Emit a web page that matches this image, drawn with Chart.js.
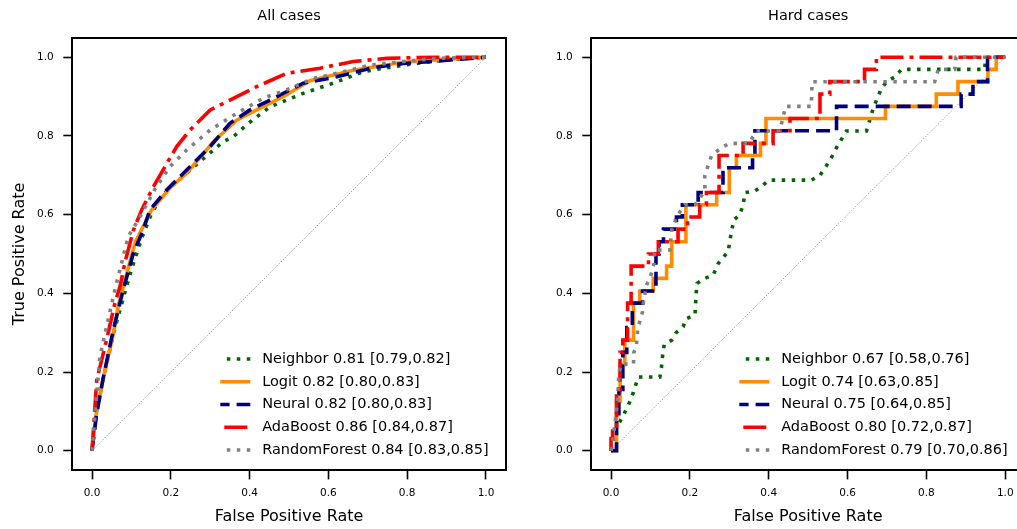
<!DOCTYPE html>
<html>
<head>
<meta charset="utf-8">
<script src="https://cdn.jsdelivr.net/npm/chart.js@4.4.1/dist/chart.umd.min.js"></script>
<style>
  html, body { margin: 0; padding: 0; background: #fff; overflow: hidden; width: 1017px; height: 529px; }
  canvas { position: absolute; top: 0; }
  #allCases { left: 0; }
  #hardCases { left: 520px; }
</style>
</head>
<body>
<canvas id="allCases" width="540" height="529"></canvas>
<canvas id="hardCases" width="530" height="529"></canvas>
<script>
const tickValues = [0, 0.2, 0.4, 0.6, 0.8, 1.0];
const modelNames = ['Neighbor', 'Logit', 'Neural', 'AdaBoost', 'RandomForest'];
const allAuc = ['0.81 [0.79,0.82]', '0.82 [0.80,0.83]', '0.82 [0.80,0.83]', '0.86 [0.84,0.87]', '0.84 [0.83,0.85]'];
const hardAuc = ['0.67 [0.58,0.76]', '0.74 [0.63,0.85]', '0.75 [0.64,0.85]', '0.80 [0.72,0.87]', '0.79 [0.70,0.86]'];
const chanceFpr = [0, 1];
const chanceTpr = [0, 1];

// All cases
const allNeighborFpr = [0, 0.01, 0.03, 0.055, 0.08, 0.10, 0.126, 0.15, 0.175, 0.20, 0.24, 0.28, 0.333, 0.359, 0.397, 0.452, 0.536, 0.612, 0.689, 0.74, 0.83, 0.90, 1.0];
const allNeighborTpr = [0, 0.09, 0.19, 0.30, 0.39, 0.46, 0.54, 0.60, 0.645, 0.67, 0.705, 0.74, 0.785, 0.798, 0.832, 0.874, 0.908, 0.934, 0.963, 0.972, 0.985, 0.993, 1.0];
const allLogitFpr = [0, 0.01, 0.03, 0.055, 0.067, 0.08, 0.11, 0.15, 0.20, 0.24, 0.27, 0.308, 0.367, 0.418, 0.486, 0.553, 0.663, 0.79, 0.90, 1.0];
const allLogitTpr = [0, 0.09, 0.19, 0.30, 0.37, 0.42, 0.53, 0.61, 0.67, 0.705, 0.74, 0.785, 0.84, 0.866, 0.90, 0.94, 0.967, 0.987, 0.995, 1.0];
const allNeuralFpr = [0, 0.012, 0.029, 0.054, 0.079, 0.105, 0.13, 0.147, 0.19, 0.232, 0.30, 0.35, 0.401, 0.452, 0.536, 0.621, 0.706, 0.79, 0.875, 1.0];
const allNeuralTpr = [0, 0.095, 0.188, 0.307, 0.408, 0.502, 0.561, 0.612, 0.663, 0.705, 0.773, 0.832, 0.866, 0.891, 0.934, 0.950, 0.972, 0.984, 0.99, 1.0];
const allAdaFpr = [0, 0.012, 0.037, 0.058, 0.071, 0.084, 0.105, 0.126, 0.156, 0.19, 0.215, 0.249, 0.30, 0.35, 0.418, 0.494, 0.579, 0.663, 0.748, 0.875, 1.0];
const allAdaTpr = [0, 0.18, 0.281, 0.375, 0.417, 0.48, 0.56, 0.612, 0.671, 0.73, 0.773, 0.815, 0.866, 0.891, 0.925, 0.959, 0.972, 0.989, 0.997, 1.0, 1.0];
const allForestFpr = [0, 0.02, 0.037, 0.058, 0.079, 0.092, 0.122, 0.16, 0.198, 0.24, 0.30, 0.367, 0.435, 0.494, 0.562, 0.638, 0.706, 0.79, 0.875, 1.0];
const allForestTpr = [0, 0.239, 0.315, 0.408, 0.493, 0.544, 0.595, 0.665, 0.722, 0.764, 0.815, 0.857, 0.896, 0.917, 0.946, 0.963, 0.98, 0.989, 0.997, 1.0];

// Hard cases
const hardNeighborFpr = [0, 0.01, 0.031, 0.048, 0.056, 0.069, 0.124, 0.128, 0.131, 0.135, 0.154, 0.165, 0.183, 0.19, 0.213, 0.216, 0.218, 0.238, 0.259, 0.272, 0.297, 0.306, 0.312, 0.327, 0.335, 0.34, 0.365, 0.386, 0.40, 0.508, 0.53, 0.545, 0.559, 0.572, 0.597, 0.648, 0.665, 0.686, 0.699, 0.72, 0.737, 0.948, 0.95, 1.0];
const hardNeighborTpr = [0, 0.053, 0.089, 0.125, 0.146, 0.1875, 0.1875, 0.212, 0.243, 0.27, 0.281, 0.30, 0.315, 0.335, 0.345, 0.40, 0.425, 0.438, 0.446, 0.476, 0.506, 0.56, 0.587, 0.60, 0.625, 0.656, 0.66, 0.675, 0.6875, 0.6875, 0.70, 0.722, 0.745, 0.77, 0.8125, 0.8125, 0.87, 0.921, 0.9375, 0.95, 0.969, 0.969, 1.0, 1.0];
const hardLogitFpr = [0, 0.014, 0.014, 0.023, 0.023, 0.035, 0.035, 0.057, 0.057, 0.073, 0.073, 0.107, 0.107, 0.141, 0.141, 0.154, 0.154, 0.19, 0.19, 0.268, 0.268, 0.30, 0.30, 0.318, 0.318, 0.379, 0.379, 0.393, 0.393, 0.696, 0.696, 0.825, 0.825, 0.88, 0.88, 0.956, 0.956, 0.977, 0.977, 1.0];
const hardLogitTpr = [0, 0, 0.125, 0.125, 0.219, 0.219, 0.281, 0.281, 0.375, 0.375, 0.406, 0.406, 0.438, 0.438, 0.469, 0.469, 0.531, 0.531, 0.625, 0.625, 0.656, 0.656, 0.719, 0.719, 0.75, 0.75, 0.781, 0.781, 0.844, 0.844, 0.875, 0.875, 0.906, 0.906, 0.938, 0.938, 0.969, 0.969, 1.0, 1.0];
const hardNeuralFpr = [0, 0.014, 0.014, 0.02, 0.02, 0.03, 0.03, 0.04, 0.04, 0.054, 0.054, 0.08, 0.08, 0.114, 0.114, 0.122, 0.122, 0.133, 0.133, 0.166, 0.166, 0.181, 0.181, 0.221, 0.221, 0.284, 0.284, 0.359, 0.359, 0.365, 0.365, 0.572, 0.572, 0.888, 0.888, 0.918, 0.918, 0.955, 0.955, 1.0];
const hardNeuralTpr = [0, 0, 0.094, 0.094, 0.156, 0.156, 0.25, 0.25, 0.313, 0.313, 0.375, 0.375, 0.406, 0.406, 0.5, 0.5, 0.531, 0.531, 0.563, 0.563, 0.594, 0.594, 0.625, 0.625, 0.656, 0.656, 0.719, 0.719, 0.75, 0.75, 0.813, 0.813, 0.875, 0.875, 0.906, 0.906, 0.938, 0.938, 1.0, 1.0];
const hardAdaFpr = [0, 0, 0.004, 0.004, 0.014, 0.014, 0.023, 0.023, 0.03, 0.03, 0.042, 0.042, 0.051, 0.051, 0.095, 0.095, 0.12, 0.12, 0.17, 0.17, 0.194, 0.194, 0.225, 0.225, 0.242, 0.242, 0.274, 0.274, 0.335, 0.335, 0.411, 0.411, 0.454, 0.454, 0.53, 0.53, 0.555, 0.555, 0.643, 0.643, 0.673, 0.673, 1.0];
const hardAdaTpr = [0, 0.031, 0.031, 0.063, 0.063, 0.156, 0.156, 0.25, 0.25, 0.281, 0.281, 0.375, 0.375, 0.469, 0.469, 0.5, 0.5, 0.531, 0.531, 0.563, 0.563, 0.594, 0.594, 0.625, 0.625, 0.656, 0.656, 0.75, 0.75, 0.781, 0.781, 0.813, 0.813, 0.844, 0.844, 0.906, 0.906, 0.938, 0.938, 0.969, 0.969, 1.0, 1.0];
const hardForestFpr = [0, 0.005, 0.01, 0.017, 0.02, 0.027, 0.057, 0.058, 0.064, 0.068, 0.074, 0.08, 0.082, 0.09, 0.10, 0.109, 0.11, 0.149, 0.154, 0.166, 0.187, 0.213, 0.238, 0.238, 0.255, 0.28, 0.30, 0.35, 0.369, 0.428, 0.443, 0.508, 0.51, 0.821, 0.83, 0.872, 0.875, 1.0];
const hardForestTpr = [0, 0.03, 0.07, 0.13, 0.20, 0.22, 0.22, 0.25, 0.264, 0.31, 0.332, 0.353, 0.375, 0.421, 0.442, 0.476, 0.51, 0.51, 0.56, 0.594, 0.625, 0.625, 0.66, 0.70, 0.75, 0.77, 0.781, 0.781, 0.8125, 0.8125, 0.875, 0.875, 0.9375, 0.9375, 0.969, 0.969, 1.0, 1.0];

const fontFamily = "'DejaVu Sans', sans-serif";
const lineStyles = [
    { color: '#006400', dash: [3.5, 6.5], legendOffset: 3.5 },     // dotted
    { color: '#FF8C00', dash: [], legendOffset: 0 },               // solid
    { color: '#000080', dash: [14, 7], legendOffset: 4.7 },        // dashed
    { color: '#FF0000', dash: [23, 6, 4, 6], legendOffset: 35 },   // dash-dot
    { color: '#808080', dash: [3.5, 6.5], legendOffset: 3.5 }      // dotted
];

const toPoints = (fpr, tpr) => fpr.map((x, i) => ({ x: x, y: tpr[i] }));

const buildDatasets = (curves, aucText) => {
    const datasets = curves.map((c, i) => ({
        label: `${modelNames[i]} ${aucText[i]}`,
        data: toPoints(c[0], c[1]),
        borderColor: lineStyles[i].color,
        backgroundColor: lineStyles[i].color,
        borderWidth: 3.6,
        borderDash: lineStyles[i].dash,
        borderCapStyle: 'butt',
        borderJoinStyle: 'miter',
        pointRadius: 0,
        pointStyle: 'line',
        fill: false,
        tension: 0,
        order: 5 - i
    }));
    datasets.push({
        label: 'chance',
        data: toPoints(chanceFpr, chanceTpr),
        borderColor: '#7a7a7a',
        borderWidth: 0.7,
        borderDash: [1.5, 1.5],
        pointRadius: 0,
        fill: false,
        order: 9
    });
    return datasets;
};

// move the legend to the lower right of the plot area
const legendPlacer = {
    id: 'legendPlacer',
    beforeDraw(chart) {
        const lg = chart.legend;
        const area = chart.chartArea;
        lg.left = area.left + 148 - lg.options.labels.padding;
        lg.bottom = Math.round((area.bottom - 5) * 2) / 2;
    }
};

// legend handles should carry the dash pattern of the line, not of the point
const legendLabels = chart => Chart.defaults.plugins.legend.labels.generateLabels(chart).map(item => {
    const ds = chart.data.datasets[item.datasetIndex];
    const style = lineStyles[item.datasetIndex] || { legendOffset: 0 };
    return Object.assign(item, {
        text: ' ' + item.text,
        lineDash: ds.borderDash,
        lineDashOffset: style.legendOffset,
        lineWidth: ds.borderWidth,
        strokeStyle: ds.borderColor,
        lineCap: 'butt'
    });
});

const fixedTicks = scale => { scale.ticks = tickValues.map(v => ({ value: v })); };

const mainAxis = (titleText, titlePadding, labelPadding, size, isX) => ({
    type: 'linear',
    position: isX ? 'bottom' : 'left',
    min: -0.05,
    max: 1.05,
    afterBuildTicks: fixedTicks,
    afterFit: s => { if (isX) { s.height = size; } else { s.width = size; } },
    ticks: {
        font: { size: 10.5, family: fontFamily },
        color: '#000',
        padding: labelPadding,
        maxRotation: 0,
        autoSkip: false,
        callback: v => Number(v).toFixed(1)
    },
    grid: { display: true, drawOnChartArea: false, drawTicks: true, tickLength: 9, tickWidth: 1.6, tickColor: '#000' },
    border: { display: true, color: '#000', width: 2 },
    title: {
        display: titleText !== '',
        text: titleText,
        color: '#000',
        font: { size: 16, family: fontFamily },
        padding: titlePadding
    }
});

const createChart = (canvasId, curves, aucText, panelTitle, yTitle, rightWidth, leftWidth) => {
    const ctx = document.getElementById(canvasId).getContext('2d');
    return new Chart(ctx, {
        type: 'line',
        data: { datasets: buildDatasets(curves, aucText) },
        plugins: [legendPlacer],
        options: {
            responsive: false,
            animation: false,
            devicePixelRatio: 1,
            layout: { padding: 0, autoPadding: false },
            scales: {
                x: mainAxis('False Positive Rate', { top: 0, bottom: 2.2 }, 8, 58.6, true),
                y: mainAxis(yTitle, { top: 9.9, bottom: 0 }, 9.5, leftWidth, false),
                x2: {
                    type: 'linear',
                    position: 'top',
                    min: -0.05,
                    max: 1.05,
                    afterFit: s => { s.height = 37.5; },
                    ticks: { display: false },
                    grid: { display: false },
                    border: { display: true, color: '#000', width: 2 },
                    title: {
                        display: true,
                        text: panelTitle,
                        color: '#000',
                        font: { size: 14.5, family: fontFamily },
                        padding: { top: 7.3, bottom: 0 }
                    }
                },
                y2: {
                    type: 'linear',
                    position: 'right',
                    min: -0.05,
                    max: 1.05,
                    afterFit: s => { s.width = rightWidth; },
                    ticks: { display: false },
                    grid: { display: false },
                    border: { display: true, color: '#000', width: 2 }
                }
            },
            plugins: {
                tooltip: { enabled: false },
                legend: {
                    display: true,
                    position: 'chartArea',
                    align: 'end',
                    labels: {
                        usePointStyle: true,
                        pointStyle: 'line',
                        pointStyleWidth: 30,
                        padding: 8.25,
                        color: '#000',
                        font: { size: 14.5, family: fontFamily },
                        filter: item => item.datasetIndex < 5,
                        sort: (a, b) => a.datasetIndex - b.datasetIndex,
                        generateLabels: legendLabels
                    }
                }
            }
        }
    });
};

createChart('allCases', [
    [allNeighborFpr, allNeighborTpr],
    [allLogitFpr, allLogitTpr],
    [allNeuralFpr, allNeuralTpr],
    [allAdaFpr, allAdaTpr],
    [allForestFpr, allForestTpr]
], allAuc, 'All cases', 'True Positive Rate', 34.3, 72.3);

createChart('hardCases', [
    [hardNeighborFpr, hardNeighborTpr],
    [hardLogitFpr, hardLogitTpr],
    [hardNeuralFpr, hardNeuralTpr],
    [hardAdaFpr, hardAdaTpr],
    [hardForestFpr, hardForestTpr]
], hardAuc, 'Hard cases', '', 25, 71.3);
</script>
</body>
</html>
